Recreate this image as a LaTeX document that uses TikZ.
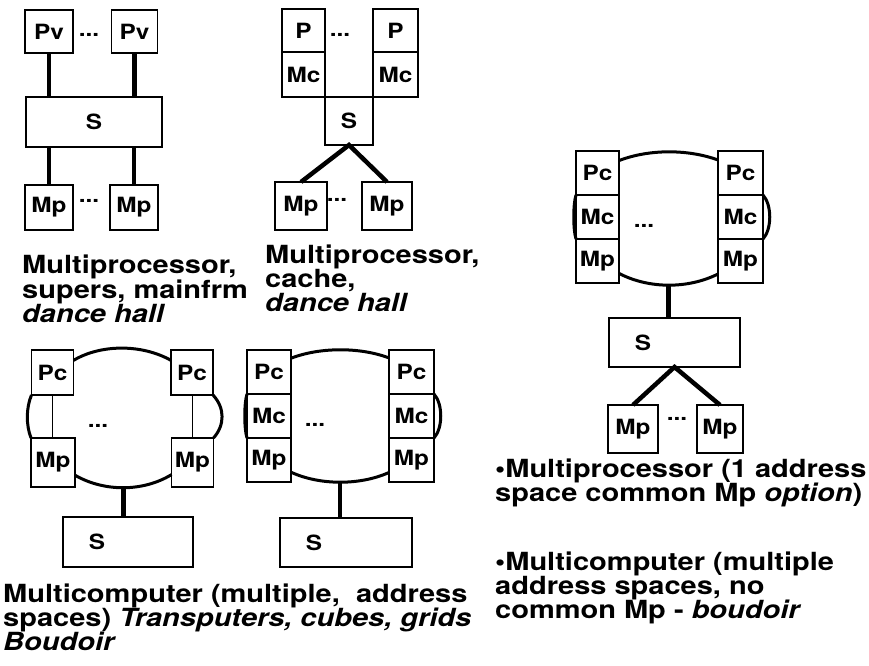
\documentclass[tikz,border=0pt]{standalone}
\usepackage{fontspec}
\setmainfont{TeX Gyre Heros}[FakeStretch=1.16]
\usetikzlibrary{positioning}

\begin{document}
\begin{tikzpicture}[x=1bp,y=-1bp,node distance=0pt,
  boxtext/.style={font=\fontsize{21bp}{21bp}\selectfont\bfseries},
  box/.style={draw,boxtext,line width=1.3bp,inner sep=0pt,outer sep=0pt,minimum width=44bp,minimum height=44bp},
  sbox/.style={box,minimum width=131bp,minimum height=49bp,label={[boxtext,anchor=center,xshift=34bp]west:S}},
  bus/.style={line width=4.5bp},
  ring/.style={line width=3bp},
  thin/.style={line width=1bp},
  caption/.style={anchor=north west,inner sep=0pt,align=left,font=\fontsize{25bp}{24bp}\selectfont\bfseries}]
  \useasboundingbox (0,0) rectangle (869,666);

  \node[box,minimum width=48bp,minimum height=43bp] (pvA1) at (49,31.5) {Pv};
  \node[box,minimum width=46bp,minimum height=43bp] (pvA2) at (134.5,31.5) {Pv};
  \node[boxtext] (dotsA1) at (89,35) {...};
  \node[box,minimum width=136bp,minimum height=50bp] (sA) at (94,122) {S};
  \node[box,minimum width=48bp,minimum height=45bp] (mpA1) at (49,207.5) {Mp};
  \node[box,minimum width=48bp,minimum height=45bp] (mpA2) at (134,207.5) {Mp};
  \node[boxtext] (dotsA2) at (89,201) {...};
  \draw[bus] (pvA1.south) -- (pvA1.south |- sA.north);
  \draw[bus] (pvA2.south) -- (pvA2.south |- sA.north);
  \draw[bus] (mpA1.north) -- (mpA1.north |- sA.south);
  \draw[bus] (mpA2.north) -- (mpA2.north |- sA.south);

  \node[box,minimum width=43bp,minimum height=43bp] (pB1) at (303.5,30.5) {P};
  \node[box,minimum width=43bp,minimum height=45bp,below=of pB1] (mcB1) {Mc};
  \node[box,minimum width=45bp,minimum height=43bp] (pB2) at (395.5,30.5) {P};
  \node[box,minimum width=45bp,minimum height=45bp,below=of pB2] (mcB2) {Mc};
  \node[boxtext] (dotsB1) at (340,35) {...};
  \node[box,minimum width=48bp,minimum height=48bp,anchor=north west] (sB) at (mcB1.south east) {S};
  \node[box,minimum width=52bp,minimum height=48bp] (mpB1) at (301,206) {Mp};
  \node[box,minimum width=50bp,minimum height=48bp] (mpB2) at (387,206) {Mp};
  \node[boxtext] (dotsB2) at (337,200) {...};
  \draw[bus] (mpB1.north) -- (sB.south) -- (mpB2.north);

  \node[box,minimum width=43bp] (pcC1) at (597.5,173) {Pc};
  \node[box,minimum width=43bp,below=of pcC1] (mcC1) {Mc};
  \node[box,minimum width=43bp,below=of mcC1] (mpC1) {Mp};
  \node[box,minimum width=45bp] (pcC2) at (740.5,173) {Pc};
  \node[box,minimum width=45bp,below=of pcC2] (mcC2) {Mc};
  \node[box,minimum width=45bp,below=of mcC2] (mpC2) {Mp};
  \node[boxtext] (dotsC1) at (644,226) {...};
  \draw[ring] (pcC1.30) .. controls (649,149) and (688,149) .. (pcC2.150);
  \draw[ring] (mpC1.-30) .. controls (649,289) and (688,289) .. (mpC2.210) coordinate[pos=0.5] (ringC);
  \draw[ring] (mcC1.north west) .. controls (573,205) and (573,229) .. (mcC1.south west);
  \draw[ring] (mcC2.north east) .. controls (772,205) and (772,229) .. (mcC2.south east);
  \node[sbox] (sC) at (674.5,342.5) {};
  \draw[bus] (ringC) -- (ringC |- sC.north);
  \node[box,minimum width=50bp,minimum height=48bp] (mpC3) at (633,429) {Mp};
  \node[box,minimum width=46bp,minimum height=48bp] (mpC4) at (720,429) {Mp};
  \node[boxtext] (dotsC2) at (677,419) {...};
  \draw[bus] (mpC3.north) -- (sC.south) -- (mpC4.north);

  \node[box,minimum width=42bp,minimum height=45bp] (pcD1) at (52.5,372.5) {Pc};
  \node[box,minimum width=44bp,minimum height=49bp] (mpD1) at (53,462.5) {Mp};
  \node[box,minimum width=42bp,minimum height=45bp] (pcD2) at (192,372.5) {Pc};
  \node[box,minimum width=42bp,minimum height=49bp] (mpD2) at (192.5,462.5) {Mp};
  \node[boxtext] (dotsD) at (98,426) {...};
  \draw[thin] (pcD1.south) -- (pcD1.south |- mpD1.north);
  \draw[thin] (pcD2.south) -- (pcD2.south |- mpD2.north);
  \draw[ring] (pcD1.30) .. controls (101,344) and (142,344) .. (pcD2.150);
  \draw[ring] (pcD1.south west) .. controls (26,408) and (26,425) .. (mpD1.north west);
  \draw[ring] (pcD2.south east) .. controls (225,408) and (225,425) .. (mpD2.north east);
  \draw[ring] (mpD1.-30) .. controls (104,492) and (143,492) .. (mpD2.210) coordinate[pos=0.5] (ringD);
  \node[sbox,minimum width=130bp,minimum height=50bp] (sD) at (128,542) {};
  \draw[bus] (ringD) -- (ringD |- sD.north);

  \node[box] (pcE1) at (269,372) {Pc};
  \node[box,below=of pcE1] (mcE1) {Mc};
  \node[box,below=of mcE1] (mpE1) {Mp};
  \node[box,minimum width=45bp] (pcE2) at (411.5,372) {Pc};
  \node[box,minimum width=45bp,below=of pcE2] (mcE2) {Mc};
  \node[box,minimum width=45bp,below=of mcE2] (mpE2) {Mp};
  \node[boxtext] (dotsE) at (315,425) {...};
  \draw[ring] (pcE1.32) .. controls (320,347) and (360,347) .. (pcE2.148);
  \draw[ring] (mpE1.-29) .. controls (320,485.5) and (360,485.5) .. (mpE2.209) coordinate[pos=0.5] (ringE);
  \draw[ring] (mcE1.north west) .. controls (244,404) and (244,428) .. (mcE1.south west);
  \draw[ring] (mcE2.north east) .. controls (443,404) and (443,428) .. (mcE2.south east);
  \node[sbox,minimum width=132bp] (sE) at (346,542.5) {};
  \draw[bus] (ringE) -- (ringE |- sE.north);

  \node[caption] (capA) at (22,254.7) {Multiprocessor,\\supers, mainfrm\\\textit{dance hall}};
  \node[caption] (capB) at (265,244.7) {Multiprocessor,\\cache,\\\textit{dance hall}};
  \node[caption] (capC) at (495,458.7) {•Multiprocessor (1 address\\space common Mp \textit{option})\\[44bp]•Multicomputer (multiple\\address spaces, no\\common Mp - \textit{boudoir}};
  \node[caption] (capD) at (3,583.7) {Multicomputer (multiple,\ \ address\\spaces) \textit{Transputers, cubes, grids}\\\textit{Boudoir}};
\end{tikzpicture}
\end{document}
